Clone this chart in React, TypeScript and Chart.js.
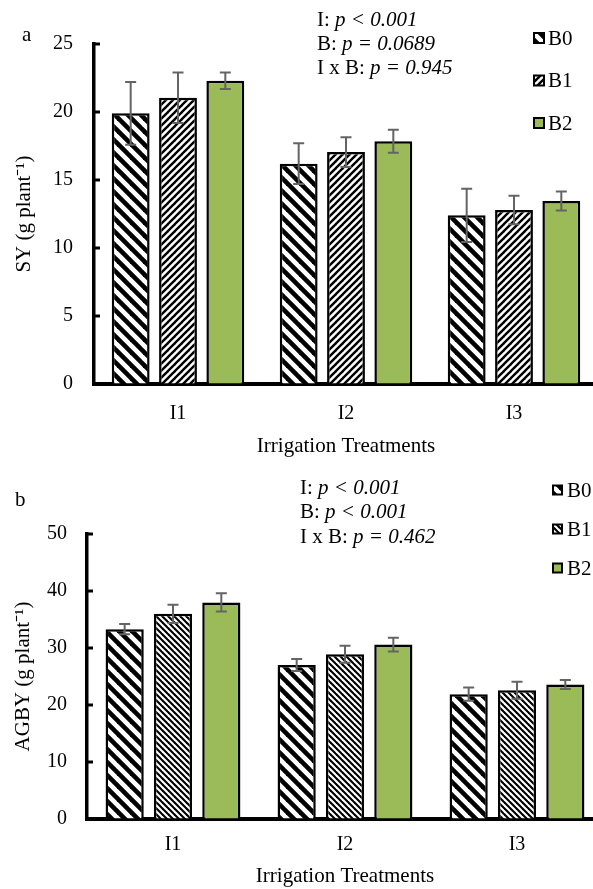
import React, { useEffect, useRef } from 'react';
import { Chart, registerables } from 'chart.js';

Chart.register(...registerables);

// ---------- data ----------
const categories = ['I1', 'I2', 'I3'];
const seriesNames = ['B0', 'B1', 'B2'];

// Panel a: SY (g plant-1)
const syB0 = [19.9, 16.2, 12.4];
const syB1 = [21.05, 17.05, 12.8];
const syB2 = [22.3, 17.85, 13.45];
const syErrB0 = [2.3, 1.5, 1.95];
const syErrB1 = [1.85, 1.1, 1.05];
const syErrB2 = [0.6, 0.85, 0.7];
const syTicks = [0, 5, 10, 15, 20, 25];
const syStatsLabels = ['I: ', 'B: ', 'I x B: '];
const syStatsValues = ['p < 0.001', 'p = 0.0689', 'p = 0.945'];

// Panel b: AGBY (g plant-1)
const agbyB0 = [33.3, 27.0, 21.9];
const agbyB1 = [36.0, 28.9, 22.6];
const agbyB2 = [38.0, 30.6, 23.6];
const agbyErrB0 = [0.9, 1.05, 1.15];
const agbyErrB1 = [1.6, 1.5, 1.5];
const agbyErrB2 = [1.6, 1.2, 0.8];
const agbyTicks = [0, 10, 20, 30, 40, 50];
const agbyStatsLabels = ['I: ', 'B: ', 'I x B: '];
const agbyStatsValues = ['p < 0.001', 'p < 0.001', 'p = 0.462'];

const FONT = "'Liberation Serif', 'Times New Roman', serif";
const GREEN = '#9BBB59';

function stripes(period: number, lw: number, dir: 'down' | 'up') {
  const c = document.createElement('canvas');
  c.width = period;
  c.height = period;
  const g = c.getContext('2d')!;
  g.fillStyle = '#fff';
  g.fillRect(0, 0, period, period);
  g.strokeStyle = '#000';
  g.lineWidth = lw;
  for (let k = -1; k <= 1; k++) {
    g.beginPath();
    if (dir === 'down') {
      g.moveTo(k * period - 2, -2);
      g.lineTo(k * period + period + 2, period + 2);
    } else {
      g.moveTo(k * period - 2, period + 2);
      g.lineTo(k * period + period + 2, -2);
    }
    g.stroke();
  }
  return g.createPattern(c, 'repeat') as CanvasPattern;
}

const decorPlugin = {
  id: 'decor',
  afterDatasetsDraw(chart: any) {
    const ctx = chart.ctx as CanvasRenderingContext2D;
    const ys = chart.scales.y;
    ctx.save();
    ctx.strokeStyle = '#646464';
    ctx.lineWidth = 2;
    const cap = 5.5;
    chart.data.datasets.forEach((ds: any, i: number) => {
      const meta = chart.getDatasetMeta(i);
      meta.data.forEach((el: any, j: number) => {
        const v = ds.data[j];
        const e = ds.errors[j];
        const x = el.x;
        const t = ys.getPixelForValue(v + e);
        const b = ys.getPixelForValue(v - e);
        ctx.beginPath();
        ctx.moveTo(x, t);
        ctx.lineTo(x, b);
        ctx.moveTo(x - cap, t);
        ctx.lineTo(x + cap, t);
        ctx.moveTo(x - cap, b);
        ctx.lineTo(x + cap, b);
        ctx.stroke();
      });
    });
    ctx.restore();
  },
  afterDraw(chart: any, _args: any, opts: any) {
    const ctx = chart.ctx as CanvasRenderingContext2D;
    const ys = chart.scales.y;
    const area = chart.chartArea;
    ctx.save();
    // inward tick marks on y axis
    ctx.strokeStyle = '#000';
    ctx.lineWidth = 3;
    ys.ticks.forEach((t: any) => {
      const py = ys.getPixelForValue(t.value);
      ctx.beginPath();
      ctx.moveTo(area.left, py);
      ctx.lineTo(area.left + 6, py);
      ctx.stroke();
    });

    // legend
    const lg = opts.legend;
    ctx.font = `${lg.fontSize}px ${FONT}`;
    ctx.textBaseline = 'middle';
    ctx.textAlign = 'left';
    chart.data.datasets.forEach((ds: any, i: number) => {
      const cy = lg.y0 + i * lg.dy;
      ctx.fillStyle = ds.backgroundColor;
      ctx.fillRect(lg.x, cy - lg.box / 2, lg.box, lg.box);
      ctx.lineWidth = 2;
      ctx.strokeStyle = '#000';
      ctx.strokeRect(lg.x, cy - lg.box / 2, lg.box, lg.box);
      ctx.fillStyle = '#000';
      ctx.fillText(ds.label, lg.x + lg.box + lg.gap, cy + 1);
    });

    // stats text
    const st = opts.stats;
    st.labels.forEach((lab: string, i: number) => {
      const cy = st.y0 + i * st.dy;
      ctx.font = `${st.fontSize}px ${FONT}`;
      ctx.fillStyle = '#000';
      ctx.fillText(lab, st.x, cy);
      const w = ctx.measureText(lab).width;
      ctx.font = `italic ${st.fontSize}px ${FONT}`;
      ctx.fillText(st.values[i], st.x + w, cy);
    });

    // panel label
    const pl = opts.panel;
    ctx.font = `${pl.fontSize}px ${FONT}`;
    ctx.fillText(pl.text, pl.x, pl.y);
    ctx.restore();
  },
};

type PanelSpec = {
  top: number;
  width: number;
  height: number;
  values: number[][];
  errors: number[][];
  patterns: (CanvasPattern | string)[];
  ticks: number[];
  yTitle: string;
  area: { left: number; right: number; top: number; bottom: number };
  xLabelPad: number;
  xTitlePad: number;
  yTitlePad: number;
  yTickPad: number;
  catPct: number;
  barPct: number;
  legend: any;
  stats: any;
  panel: any;
};

function PanelChart({ spec }: { spec: () => PanelSpec }) {
  const ref = useRef<HTMLCanvasElement | null>(null);
  const s = useRef<PanelSpec | null>(null);
  if (!s.current) s.current = spec();
  const p = s.current;

  useEffect(() => {
    const canvas = ref.current!;
    const a = p.area;
    const step = p.ticks[1] - p.ticks[0];
    const chart = new Chart(canvas, {
      type: 'bar',
      data: {
        labels: categories,
        datasets: seriesNames.map((name, i) => ({
          label: name,
          data: p.values[i],
          errors: p.errors[i],
          backgroundColor: p.patterns[i],
          borderColor: '#000',
          borderWidth: 2.5,
          categoryPercentage: p.catPct,
          barPercentage: p.barPct,
        })) as any,
      },
      options: {
        responsive: false,
        animation: false,
        devicePixelRatio: 1,
        layout: {
          padding: { top: a.top, left: 0, right: p.width - a.right, bottom: 0 },
        },
        plugins: {
          legend: { display: false },
          tooltip: { enabled: false },
          decor: { legend: p.legend, stats: p.stats, panel: p.panel },
        } as any,
        scales: {
          x: {
            z: 1,
            grid: { display: true, drawOnChartArea: false, drawTicks: false },
            border: { display: true, color: '#000', width: 4 },
            ticks: {
              padding: p.xLabelPad,
              color: '#000',
              font: { family: FONT, size: 20 },
            },
            title: {
              display: true,
              text: 'Irrigation Treatments',
              color: '#000',
              font: { family: FONT, size: 21 },
              padding: { top: 0, bottom: p.xTitlePad },
            },
            afterFit: (sc: any) => {
              sc.height = p.height - a.bottom;
            },
          },
          y: {
            min: p.ticks[0],
            max: p.ticks[p.ticks.length - 1],
            grid: { display: true, drawOnChartArea: false, drawTicks: false },
            border: { display: true, color: '#000', width: 3.5 },
            ticks: {
              stepSize: step,
              padding: p.yTickPad,
              color: '#000',
              font: { family: FONT, size: 20 },
            },
            title: {
              display: true,
              text: p.yTitle,
              color: '#000',
              font: { family: FONT, size: 21 },
              padding: { top: p.yTitlePad, bottom: 0 },
            },
            afterFit: (sc: any) => {
              sc.width = a.left;
            },
          },
        },
      },
      plugins: [decorPlugin],
    } as any);
    return () => chart.destroy();
  }, []);

  return (
    <canvas
      ref={ref}
      width={p.width}
      height={p.height}
      style={{ position: 'absolute', left: 0, top: p.top, width: p.width, height: p.height }}
    />
  );
}

const specA = (): PanelSpec => ({
  top: 0,
  width: 610,
  height: 460,
  values: [syB0, syB1, syB2],
  errors: [syErrB0, syErrB1, syErrB2],
  patterns: [stripes(13, 4.6, 'down'), stripes(7, 2.4, 'up'), GREEN],
  ticks: syTicks,
  yTitle: 'SY (g plant\u207B\u00B9)',
  area: { left: 94, right: 598, top: 44, bottom: 384 },
  xLabelPad: 18,
  xTitlePad: 1,
  yTitlePad: 12,
  yTickPad: 21,
  catPct: 0.845,
  barPct: 0.8,
  legend: { x: 534, y0: 38, dy: 42.5, box: 10, gap: 4, fontSize: 21 },
  stats: { x: 317, y0: 20, dy: 24, fontSize: 21, labels: syStatsLabels, values: syStatsValues },
  panel: { text: 'a', x: 22, y: 35, fontSize: 21 },
});

const specB = (): PanelSpec => ({
  top: 460,
  width: 620,
  height: 429,
  values: [agbyB0, agbyB1, agbyB2],
  errors: [agbyErrB0, agbyErrB1, agbyErrB2],
  patterns: [stripes(13, 4.6, 'down'), stripes(6, 2.1, 'down'), GREEN],
  ticks: agbyTicks,
  yTitle: 'AGBY (g plant\u207B\u00B9)',
  area: { left: 87, right: 603, top: 74, bottom: 359 },
  xLabelPad: 14,
  xTitlePad: 0,
  yTitlePad: 11,
  yTickPad: 20,
  catPct: 0.843,
  barPct: 0.79,
  legend: { x: 553, y0: 30, dy: 39, box: 9, gap: 5, fontSize: 21 },
  stats: { x: 300, y0: 28, dy: 24.5, fontSize: 21, labels: agbyStatsLabels, values: agbyStatsValues },
  panel: { text: 'b', x: 15, y: 40, fontSize: 21 },
});

export default function App() {
  return (
    <div
      style={{
        position: 'absolute',
        left: 0,
        top: 0,
        width: 593,
        height: 889,
        overflow: 'hidden',
        background: '#fff',
      }}
    >
      <PanelChart spec={specA} />
      <PanelChart spec={specB} />
    </div>
  );
}
